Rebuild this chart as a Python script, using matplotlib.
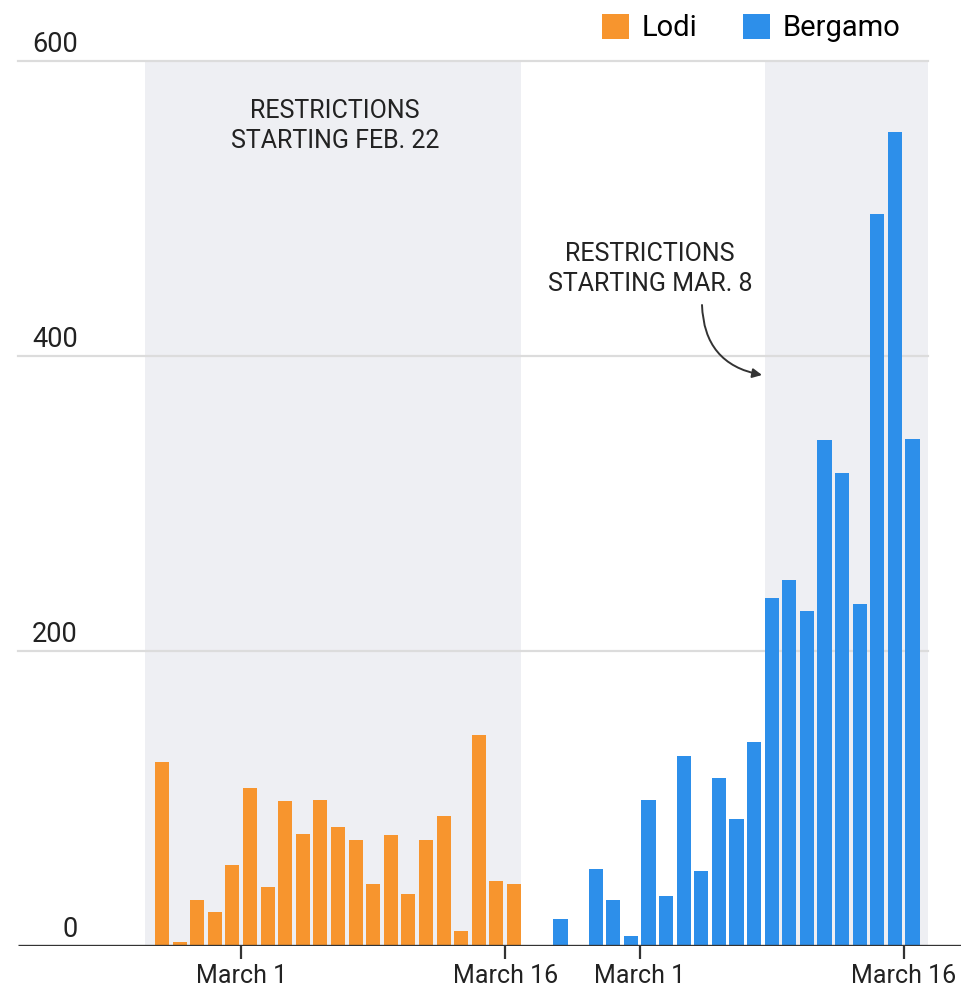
import numpy as np
import matplotlib
matplotlib.use("Agg")
import matplotlib.pyplot as plt

plt.rcParams['font.family'] = ['Roboto', 'DejaVu Sans']

########################################
# Data (new cases per day)
########################################

lodi = [125, 3, 31, 23, 55, 107, 40, 98, 76, 99, 81, 72, 42, 75, 35,
        72, 88, 10, 143, 44, 42]
bergamo = [18, 1, 52, 31, 7, 99, 34, 129, 51, 114, 86, 138, 236, 248,
           227, 343, 321, 232, 496, 552, 344]
# first bar is Feb. 25, last is March 16 for both panels
tick_days = [5, 20]
tick_labels = ["March 1", "March 16"]
yticks = [0, 200, 400, 600]

lodi_color = '#f7952e'
berg_color = '#2d8fea'
shade_color = '#eeeff3'
text_color = '#222222'

# layout: one slot per day, Bergamo panel shifted right
px_per_slot = 17.6
x0_px = 162
berg_off = 22.64
px_per_unit = 1.475

def sx(px):
    # pixel column -> slot coordinate
    return (px - x0_px) / px_per_slot

W, H = 962, 991
fig = plt.figure(figsize=(W / 100, H / 100), dpi=100)
base_px = 946
ax = fig.add_axes([0, (H - base_px) / H, 1, base_px / H])
xmax = sx(W)
ax.set_xlim(sx(0), xmax)
ymax = base_px / px_per_unit
ax.set_ylim(0, ymax)
for s in ax.spines.values():
    s.set_visible(False)

lodi_x = np.arange(len(lodi))
berg_x = np.arange(len(bergamo)) + berg_off

# shaded restriction periods
ax.axvspan(-0.97, lodi_x[-1] + 0.4, ymin=0, ymax=600 / ymax,
           color=shade_color, lw=0, zorder=0)
ax.axvspan(berg_x[12] - 0.4, berg_x[-1] + 0.88, ymin=0, ymax=600 / ymax,
           color=shade_color, lw=0, zorder=0)

# gridlines and y labels
grid_left, grid_right = sx(18), sx(928)
for v in yticks[1:]:
    ax.plot([grid_left, grid_right], [v, v], color='#dcdcdc', lw=1.6, zorder=1)
for v in yticks:
    ax.text(sx(78), v + 6, str(v), ha='right', va='baseline', fontsize=19.5,
            color=text_color)
ax.plot([grid_left, xmax], [0, 0], color='#333333', lw=2.4, zorder=4,
        solid_capstyle='butt')

b1 = ax.bar(lodi_x, lodi, width=0.8, color=lodi_color, zorder=3, label='Lodi')
b2 = ax.bar(berg_x, bergamo, width=0.8, color=berg_color, zorder=3, label='Bergamo')

ticks = [d - 0.5 for d in tick_days] + [d - 0.5 + berg_off for d in tick_days]
ax.set_xticks(ticks)
ax.set_xticklabels(tick_labels * 2, fontsize=18, color=text_color)
ax.set_yticks([])
ax.tick_params(axis='x', length=9, width=1.6, color='#333333', pad=4)

ax.text(sx(335), (base_px - 126) / px_per_unit, "RESTRICTIONS\nSTARTING FEB. 22",
        ha='center', va='center', fontsize=18, color=text_color, linespacing=1.3)
ax.text(sx(650), (base_px - 269) / px_per_unit, "RESTRICTIONS\nSTARTING MAR. 8",
        ha='center', va='center', fontsize=18, color=text_color, linespacing=1.3)
ax.annotate("", xy=(sx(762), (base_px - 375) / px_per_unit),
            xytext=(sx(702), (base_px - 305) / px_per_unit),
            arrowprops=dict(arrowstyle='-|>', color='#333333', lw=1.4,
                            shrinkA=0, shrinkB=0,
                            connectionstyle='arc3,rad=0.4',
                            mutation_scale=14))

fig.legend(handles=[b1, b2], loc='upper right',
           bbox_to_anchor=(912 / W, 1 - 2 / H), ncol=2, frameon=False,
           fontsize=21, handlelength=0.95, handleheight=0.95,
           handletextpad=0.42, columnspacing=1.55, borderaxespad=0)

fig.savefig('out.png', dpi=100)
